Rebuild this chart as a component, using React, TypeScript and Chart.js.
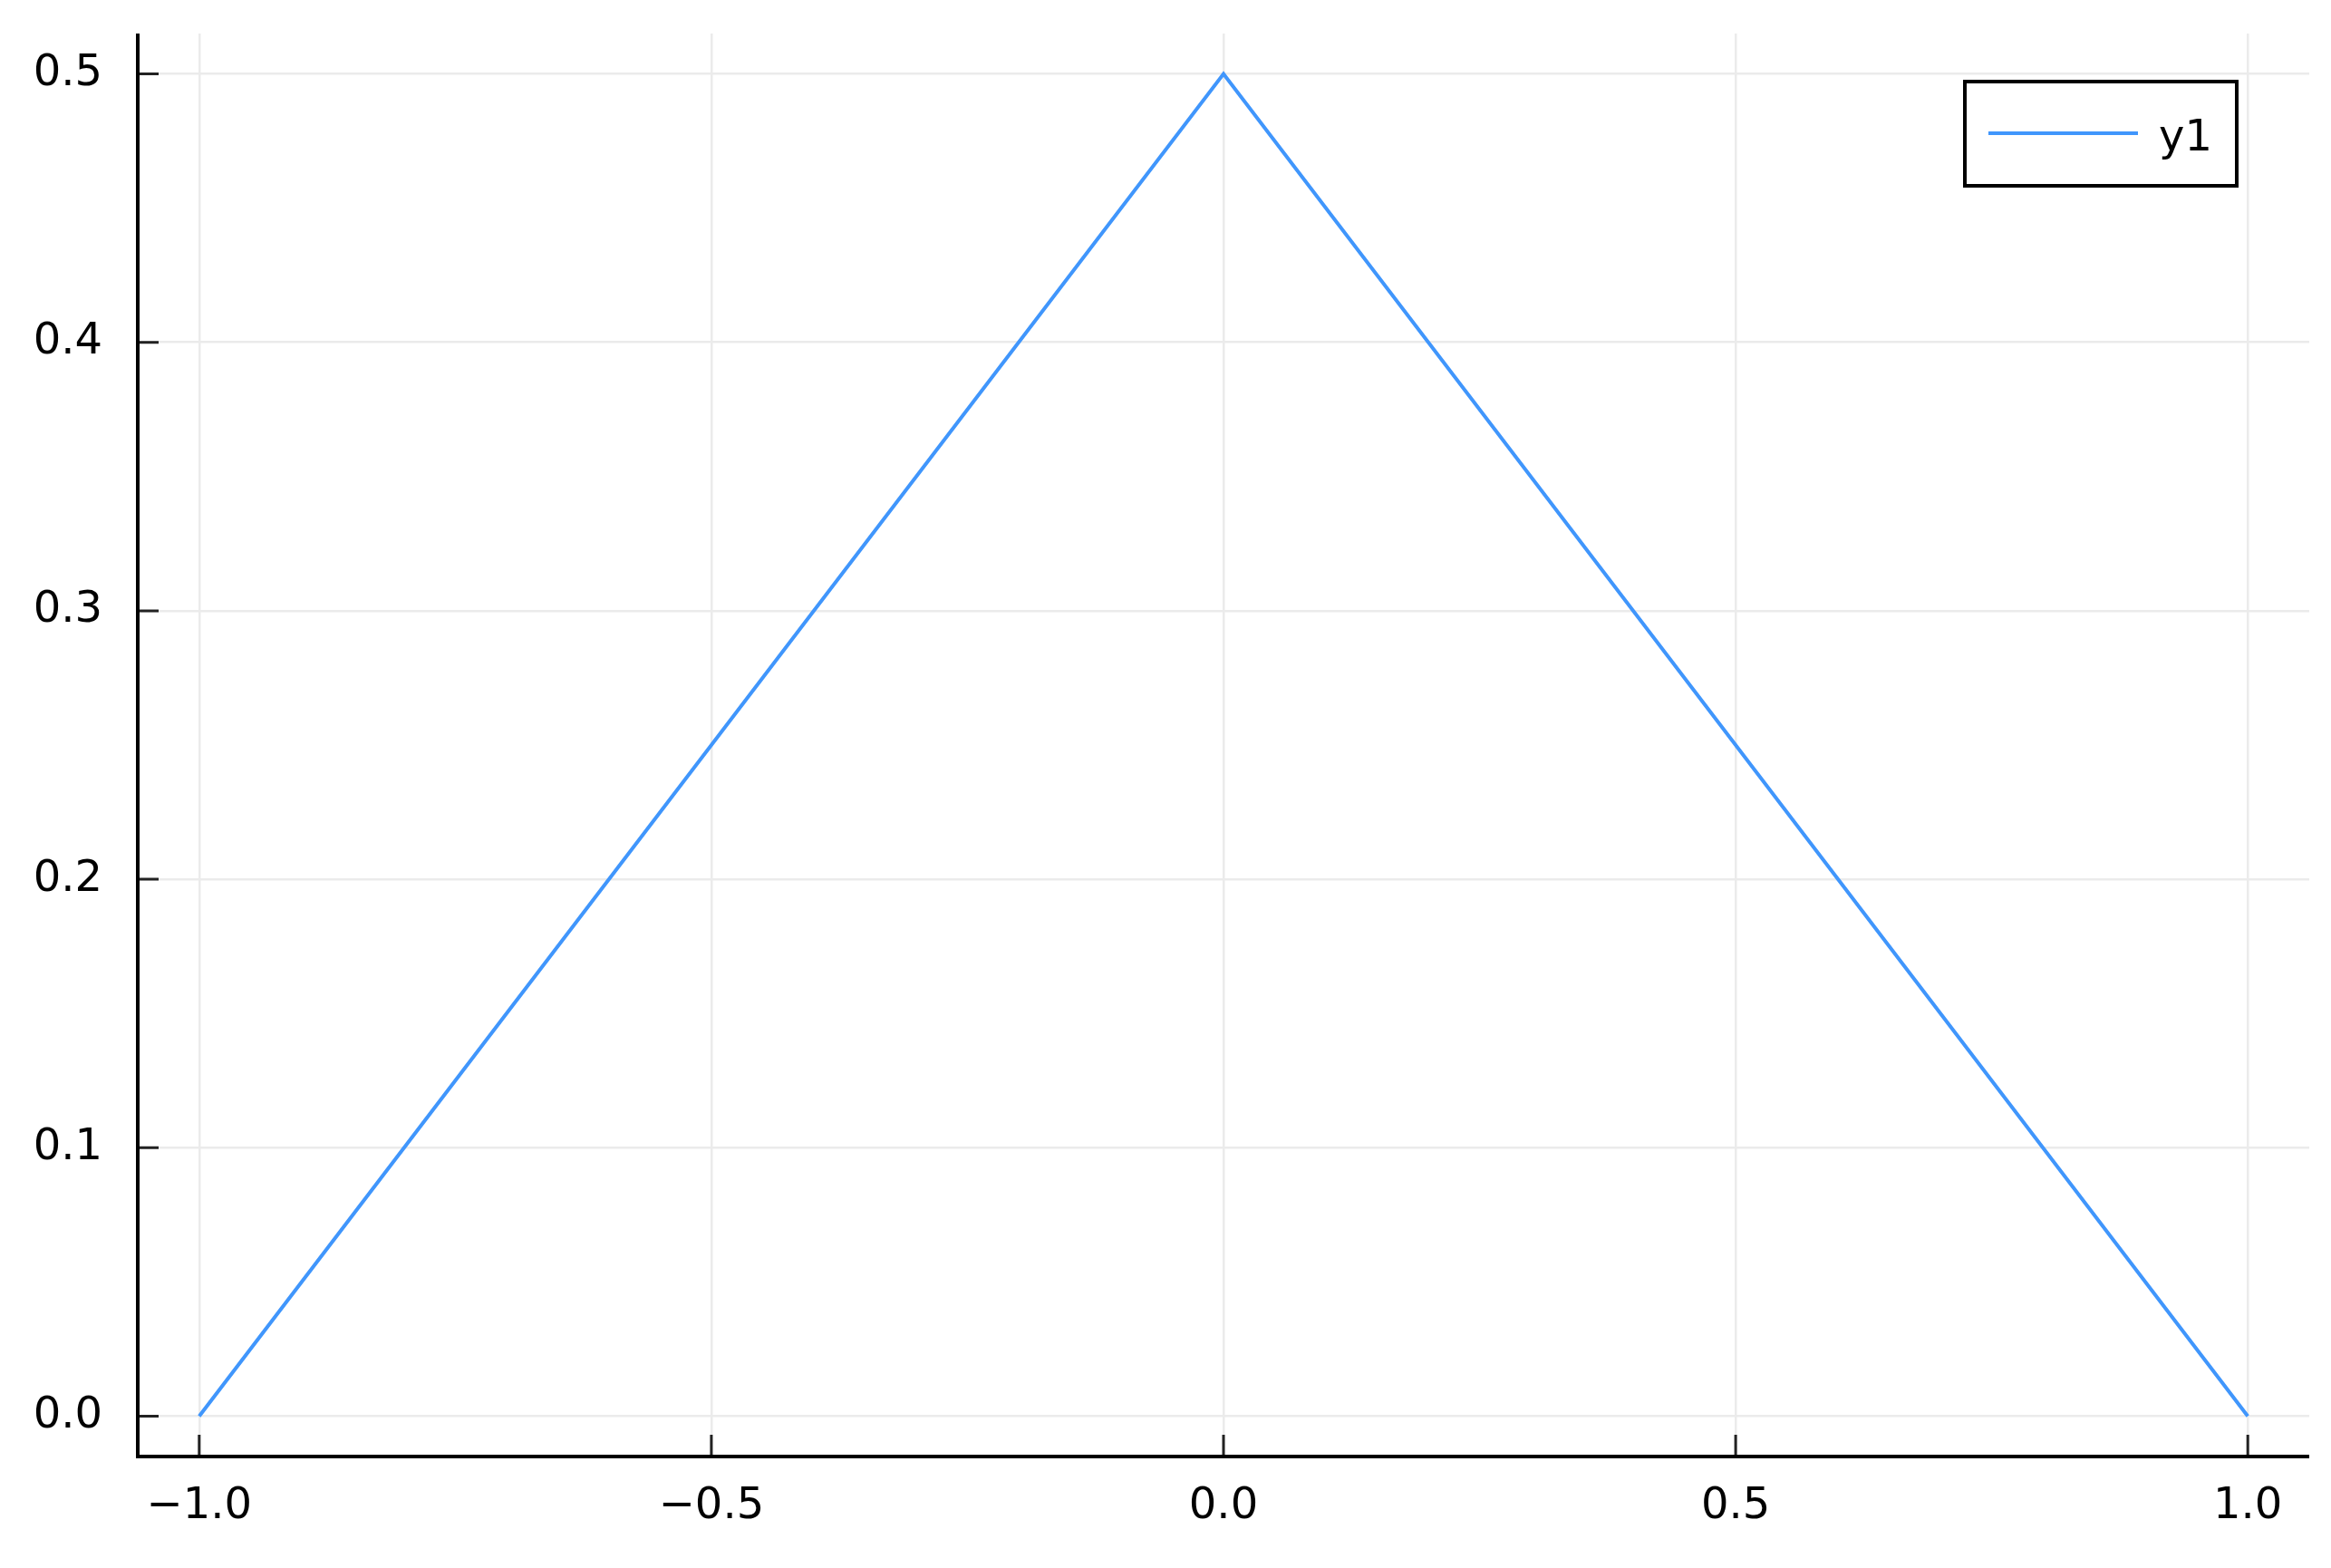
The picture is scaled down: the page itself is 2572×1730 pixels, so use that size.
import React, { useEffect, useRef } from "react";
import { Chart, registerables } from "chart.js";

Chart.register(...registerables);

const xValues = [-1, 0, 1];
const yValues = [0, 0.5, 0];
const seriesLabel = "y1";
const xTicks = [-1.0, -0.5, 0.0, 0.5, 1.0];
const yTicks = [0.0, 0.1, 0.2, 0.3, 0.4, 0.5];

const LINE_COLOR = "#4096fc";
const FONT = "'DejaVu Sans', sans-serif";

const fmt = (v: number) =>
  v < 0 ? "\u2212" + Math.abs(v).toFixed(1) : v.toFixed(1);

const innerTicksPlugin = {
  id: "innerTicks",
  afterDraw(chart: any) {
    const { ctx, chartArea } = chart;
    const xs = chart.scales.x;
    const ys = chart.scales.y;
    ctx.save();
    ctx.strokeStyle = "#222";
    ctx.lineWidth = 3;
    ctx.beginPath();
    xs.ticks.forEach((t: any) => {
      const px = xs.getPixelForValue(t.value);
      ctx.moveTo(px, chartArea.bottom);
      ctx.lineTo(px, chartArea.bottom - 24);
    });
    ys.ticks.forEach((t: any) => {
      const py = ys.getPixelForValue(t.value);
      ctx.moveTo(chartArea.left, py);
      ctx.lineTo(chartArea.left + 23, py);
    });
    ctx.stroke();
    // axis lines
    ctx.strokeStyle = "#000";
    ctx.lineWidth = 4;
    ctx.beginPath();
    ctx.moveTo(chartArea.left, chartArea.top);
    ctx.lineTo(chartArea.left, chartArea.bottom);
    ctx.lineTo(chartArea.right, chartArea.bottom);
    ctx.stroke();

    // legend
    const ds = chart.data.datasets[0];
    const bx = chartArea.right - 380;
    const by = chartArea.top + 53;
    const bw = 300;
    const bh = 115;
    ctx.fillStyle = "#fff";
    ctx.fillRect(bx, by, bw, bh);
    ctx.strokeStyle = "#000";
    ctx.lineWidth = 4;
    ctx.strokeRect(bx, by, bw, bh);
    ctx.strokeStyle = ds.borderColor;
    ctx.lineWidth = 4;
    ctx.beginPath();
    ctx.moveTo(bx + 26, by + 57);
    ctx.lineTo(bx + 191, by + 57);
    ctx.stroke();
    ctx.fillStyle = "#000";
    ctx.font = `48px ${FONT}`;
    ctx.textBaseline = "alphabetic";
    ctx.textAlign = "left";
    ctx.fillText(ds.label, bx + 214, by + 76);
    ctx.restore();
  },
};

export default function App() {
  const ref = useRef<HTMLCanvasElement | null>(null);
  useEffect(() => {
    if (!ref.current) return;
    const chart = new Chart(ref.current, {
      type: "scatter",
      data: {
        datasets: [
          {
            label: seriesLabel,
            data: xValues.map((x, i) => ({ x, y: yValues[i] })),
            showLine: true,
            borderColor: LINE_COLOR,
            backgroundColor: LINE_COLOR,
            borderWidth: 4,
            pointRadius: 0,
            pointHoverRadius: 0,
            tension: 0,
          },
        ],
      },
      options: {
        animation: false,
        responsive: false,
        devicePixelRatio: 1,
        layout: { padding: { left: 0, top: 37, right: 24, bottom: 0 } },
        plugins: {
          legend: { display: false },
          tooltip: { enabled: false },
        },
        scales: {
          x: {
            type: "linear",
            min: -1.06,
            max: 1.06,
            afterBuildTicks: (s: any) => {
              s.ticks = xTicks.map((v) => ({ value: v }));
            },
            afterFit: (s: any) => {
              s.height = 123;
              s.paddingLeft = 0;
              s.paddingRight = 0;
              s.paddingTop = 0;
              s.paddingBottom = 0;
            },
            grid: {
              color: "#ebebeb",
              lineWidth: 2.5,
              drawTicks: false,
              tickLength: 0,
            },
            border: { display: false },
            ticks: {
              color: "#000",
              font: { family: FONT, size: 48 },
              padding: 27,
              maxRotation: 0,
              callback: (v: any) => fmt(Number(v)),
            },
          },
          y: {
            type: "linear",
            min: -0.015,
            max: 0.515,
            afterBuildTicks: (s: any) => {
              s.ticks = yTicks.map((v) => ({ value: v }));
            },
            afterFit: (s: any) => {
              s.width = 152;
              s.paddingLeft = 0;
              s.paddingRight = 0;
              s.paddingTop = 0;
              s.paddingBottom = 0;
            },
            grid: {
              color: "#ebebeb",
              lineWidth: 2.5,
              drawTicks: false,
              tickLength: 0,
            },
            border: { display: false },
            ticks: {
              color: "#000",
              font: { family: FONT, size: 48 },
              padding: 39,
              callback: (v: any) => fmt(Number(v)),
            },
          },
        },
      },
      plugins: [innerTicksPlugin],
    });
    return () => chart.destroy();
  }, []);
  return (
    <div style={{ position: "absolute", left: 0, top: 0, width: 2572, height: 1730, background: "#fff" }}>
      <canvas ref={ref} width={2572} height={1730} style={{ width: 2572, height: 1730, display: "block" }} />
    </div>
  );
}
